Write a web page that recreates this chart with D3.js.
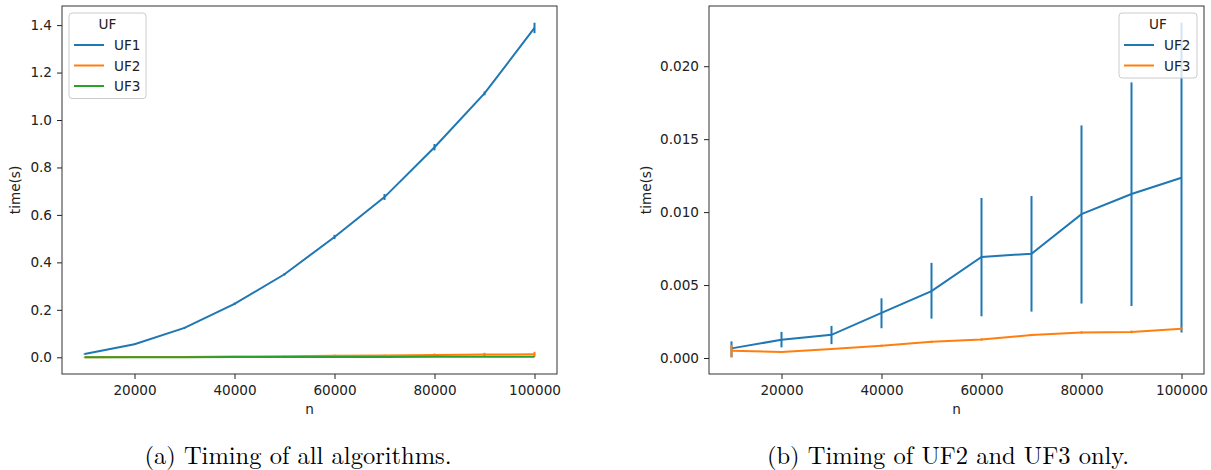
<!DOCTYPE html>
<html>
<head>
<meta charset="utf-8">
<script src="https://cdn.jsdelivr.net/npm/d3@7"></script>
<style>
  body { margin: 0; background: #fff; }
  svg { display: block; }
  .tick text { font-family: "DejaVu Sans", sans-serif; font-size: 13.6px; fill: #222; }
  .tick line { stroke: #222; }
  .domain { display: none; }
</style>
</head>
<body>
<div id="chart"></div>
<script>
// problem sizes
const nValues = [10000, 20000, 30000, 40000, 50000, 60000, 70000, 80000, 90000, 100000];

// UF1 mean time + error bar ends
const uf1Mean = [0.014, 0.055, 0.124, 0.225, 0.350, 0.507, 0.675, 0.885, 1.112, 1.388];
const uf1Lo   = [0.012, 0.052, 0.120, 0.220, 0.345, 0.498, 0.663, 0.872, 1.104, 1.366];
const uf1Hi   = [0.016, 0.058, 0.128, 0.230, 0.355, 0.516, 0.688, 0.899, 1.120, 1.410];

// UF2
const uf2Mean = [0.00066, 0.00125, 0.00159, 0.00309, 0.00458, 0.00693, 0.00715, 0.00986, 0.01124, 0.01235];
const uf2Lo   = [0.00005, 0.00073, 0.00095, 0.00204, 0.00270, 0.00286, 0.00318, 0.00373, 0.00356, 0.00175];
const uf2Hi   = [0.00114, 0.00179, 0.00220, 0.00409, 0.00652, 0.01097, 0.01110, 0.01594, 0.01889, 0.02298];

// UF3
const uf3Mean = [0.00050, 0.00041, 0.00061, 0.00084, 0.00111, 0.00127, 0.00157, 0.00175, 0.00179, 0.00200];
const uf3Lo   = [0.00005, 0.00036, 0.00056, 0.00077, 0.00104, 0.00119, 0.00150, 0.00167, 0.00170, 0.00190];
const uf3Hi   = [0.00090, 0.00046, 0.00066, 0.00091, 0.00118, 0.00135, 0.00164, 0.00183, 0.00188, 0.00210];

const yTicksA = [0, 0.2, 0.4, 0.6, 0.8, 1.0, 1.2, 1.4];
const yTicksB = [0, 0.005, 0.010, 0.015, 0.020];
const xTicks  = [20000, 40000, 60000, 80000, 100000];

const blue = "#1f77b4", orange = "#ff7f0e", green = "#2ca02c";

const svg = d3.select("#chart").append("svg")
  .attr("width", 1211).attr("height", 470);

function series(name, mean, lo, hi, color) {
  return { name, color, pts: nValues.map((n, i) => ({ n, m: mean[i], lo: lo[i], hi: hi[i] })) };
}

function panel({ left, right, top, bottom, data, yTicks, yFmt, yLabelX, legendX, caption, captionX }) {
  const g = svg.append("g");

  // matplotlib style 5% margins
  const xs = d3.extent(nValues);
  const xp = (xs[1] - xs[0]) * 0.05;
  const x = d3.scaleLinear().domain([xs[0] - xp, xs[1] + xp]).range([left, right]);

  const allY = data.flatMap(s => s.pts.flatMap(p => [p.lo, p.hi]));
  const ys = d3.extent(allY);
  const yp = (ys[1] - ys[0]) * 0.05;
  const y = d3.scaleLinear().domain([ys[0] - yp, ys[1] + yp]).range([bottom, top]);

  g.append("g").attr("transform", `translate(0,${bottom})`)
    .call(d3.axisBottom(x).tickValues(xTicks).tickFormat(d3.format("d")).tickSize(5).tickPadding(6));
  g.append("g").attr("transform", `translate(${left},0)`)
    .call(d3.axisLeft(y).tickValues(yTicks).tickFormat(yFmt).tickSize(5).tickPadding(5));

  const line = d3.line().x(d => x(d.n)).y(d => y(d.m));

  data.forEach(s => {
    g.append("path").datum(s.pts)
      .attr("d", line)
      .attr("fill", "none")
      .attr("stroke", s.color)
      .attr("stroke-width", 2);
    g.append("g").selectAll("line").data(s.pts).join("line")
      .attr("x1", d => x(d.n)).attr("x2", d => x(d.n))
      .attr("y1", d => y(d.lo)).attr("y2", d => y(d.hi))
      .attr("stroke", s.color)
      .attr("stroke-width", 2);
  });

  // frame
  g.append("rect")
    .attr("x", left).attr("y", top)
    .attr("width", right - left).attr("height", bottom - top)
    .attr("fill", "none").attr("stroke", "#333").attr("stroke-width", 1);

  // axis labels
  g.append("text")
    .attr("x", (left + right) / 2).attr("y", 414)
    .attr("text-anchor", "middle")
    .style("font-family", "DejaVu Sans").style("font-size", "13.6px").attr("fill", "#222")
    .text("n");
  g.append("text")
    .attr("transform", `translate(${yLabelX},${(top + bottom) / 2}) rotate(-90)`)
    .attr("text-anchor", "middle")
    .style("font-family", "DejaVu Sans").style("font-size", "13.6px").attr("fill", "#222")
    .text("time(s)");

  // legend
  const lw = legendX[1] - legendX[0];
  const lg = g.append("g").attr("transform", `translate(${legendX[0]},13)`);
  lg.append("rect")
    .attr("width", lw).attr("height", 24 + data.length * 20.5)
    .attr("rx", 3)
    .attr("fill", "#fff").attr("fill-opacity", 0.8)
    .attr("stroke", "#ccc");
  lg.append("text")
    .attr("x", lw / 2).attr("y", 15.5)
    .attr("text-anchor", "middle")
    .style("font-family", "DejaVu Sans").style("font-size", "13.6px").attr("fill", "#222")
    .text("UF");
  data.forEach((s, i) => {
    const yy = 32 + i * 20.5;
    lg.append("line").attr("x1", 5).attr("x2", 35).attr("y1", yy).attr("y2", yy)
      .attr("stroke", s.color).attr("stroke-width", 2);
    lg.append("text").attr("x", 45).attr("y", yy + 5)
      .style("font-family", "DejaVu Sans").style("font-size", "13.6px").attr("fill", "#222")
      .text(s.name);
  });

  // caption
  svg.append("text")
    .attr("x", captionX).attr("y", 464)
    .attr("text-anchor", "middle")
    .style("font-family", "'Latin Modern Roman', 'DejaVu Serif', serif").style("font-size", "24.5px").attr("fill", "#000")
    .text(caption);
}

panel({
  left: 62, right: 557, top: 6, bottom: 374,
  data: [
    series("UF1", uf1Mean, uf1Lo, uf1Hi, blue),
    series("UF2", uf2Mean, uf2Lo, uf2Hi, orange),
    series("UF3", uf3Mean, uf3Lo, uf3Hi, green)
  ],
  yTicks: yTicksA, yFmt: d3.format(".1f"), yLabelX: 20,
  legendX: [69, 146],
  caption: "(a) Timing of all algorithms.", captionX: 298
});

panel({
  left: 709, right: 1204, top: 6, bottom: 374,
  data: [
    series("UF2", uf2Mean, uf2Lo, uf2Hi, blue),
    series("UF3", uf3Mean, uf3Lo, uf3Hi, orange)
  ],
  yTicks: yTicksB, yFmt: d3.format(".3f"), yLabelX: 651,
  legendX: [1119, 1197],
  caption: "(b) Timing of UF2 and UF3 only.", captionX: 948
});
</script>
</body>
</html>
